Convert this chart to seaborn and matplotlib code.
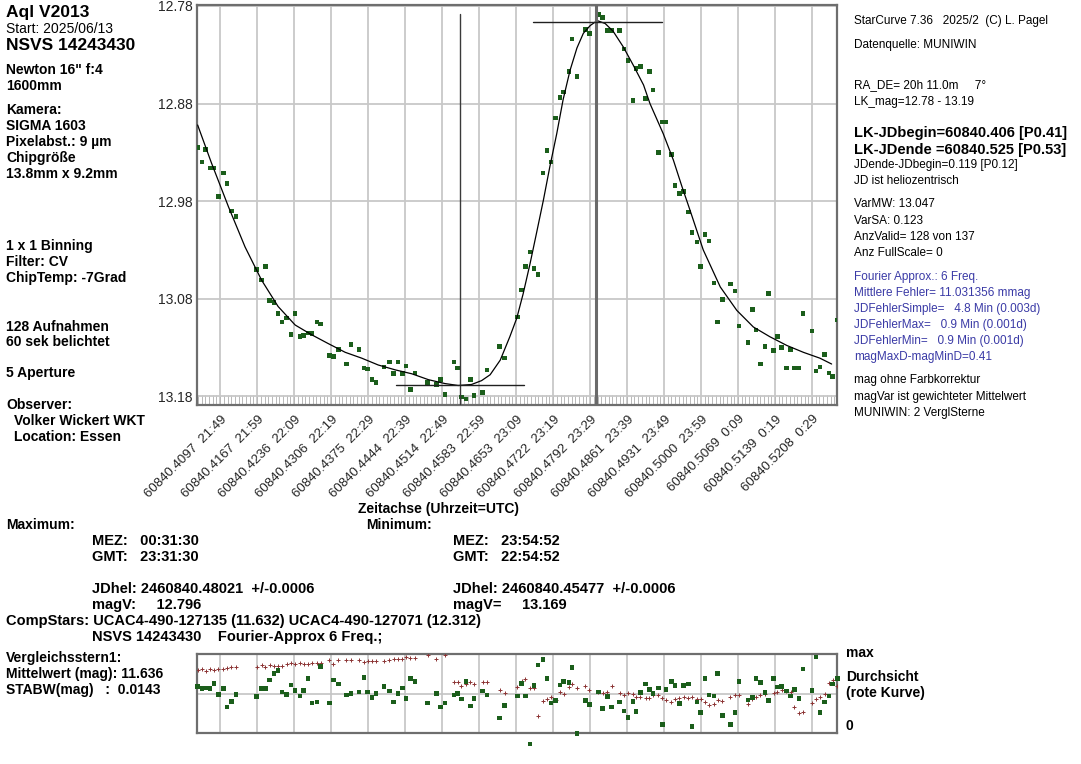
import numpy as np
import matplotlib
matplotlib.use('Agg')
import matplotlib.pyplot as plt
from matplotlib.ticker import MultipleLocator
import matplotlib.transforms as mtransforms
import seaborn as sns

# ---- data (JD - 2400000 fraction, magnitudes, percent) ----
JD0 = 60840.0

jd_frac = [.4055, .4063, .4070, .4078, .4086, .4094, .4103, .4110, .4118, .4127,
           .4166, .4175, .4182, .4190, .4198, .4206, .4213, .4222, .4230, .4238,
           .4247, .4254, .4262, .4270, .4279, .4286, .4302, .4310, .4319, .4334,
           .4343, .4358, .4367, .4374, .4382, .4390, .4405, .4415, .4423, .4431,
           .4439, .4446, .4454, .4463, .4487, .4503, .4511, .4519, .4536, .4543,
           .4550, .4559, .4567, .4574, .4590, .4598, .4622, .4631, .4655, .4663,
           .4670, .4679, .4686, .4694, .4703, .4711, .4718, .4727, .4735, .4742,
           .4752, .4758, .4767, .4783, .4790, .4807, .4815, .4824, .4832, .4847,
           .4855, .4863, .4872, .4878, .4886, .4896, .4903, .4910, .4920, .4927,
           .4934, .4944, .4951, .4959, .4967, .4976, .4983, .4992, .4999, .5007,
           .5015, .5024, .5031, .5040, .5055, .5064, .5071, .5088, .5096, .5103,
           .5111, .5120, .5127, .5136, .5143, .5151, .5160, .5168, .5175, .5184,
           .5191, .5208, .5216, .5223, .5232, .5240, .5247, .5256]

mag = [12.925, 12.940, 12.927, 12.946, 12.946, 12.975, 12.951, 12.962, 12.990, 12.996,
       13.050, 13.061, 13.047, 13.082, 13.084, 13.095, 13.104, 13.100, 13.117, 13.095,
       13.119, 13.118, 13.115, 13.116, 13.104, 13.106, 13.138, 13.139, 13.132, 13.147,
       13.127, 13.132, 13.151, 13.152, 13.163, 13.166, 13.150, 13.145, 13.157, 13.145,
       13.157, 13.149, 13.173, 13.156, 13.166, 13.168, 13.163, 13.178, 13.145, 13.151,
       13.181, 13.183, 13.163, 13.179, 13.176, 13.153, 13.129, 13.141, 13.099, 13.071,
       13.047, 13.032, 13.049, 13.055, 12.951, 12.928, 12.940, 12.895, 12.874, 12.868,
       12.847, 12.814, 12.852, 12.804, 12.808, 12.789, 12.792, 12.805, 12.805, 12.805,
       12.824, 12.836, 12.877, 12.844, 12.842, 12.875, 12.847, 12.866, 12.930, 12.899,
       12.899, 12.932, 12.964, 12.972, 12.970, 12.991, 13.012, 13.022, 13.047, 13.014,
       13.021, 13.064, 13.104, 13.081, 13.065, 13.072, 13.108, 13.125, 13.091, 13.112,
       13.147, 13.129, 13.075, 13.133, 13.119, 13.130, 13.151, 13.132, 13.151, 13.151,
       13.095, 13.113, 13.154, 13.150, 13.137, 13.156, 13.160, 13.102]

# Fourier approximation curve, traced point by point
fit_frac = [.4055, .4081, .4113, .4144, .4175, .4206, .4238, .4269, .4300, .4332,
            .4363, .4394, .4426, .4457, .4488, .4519, .4544, .4569, .4588, .4604,
            .4623, .4641, .4654, .4666, .4679, .4691, .4704, .4716, .4729, .4741,
            .4754, .4767, .4779, .4792, .4805, .4820, .4835, .4854, .4873, .4892,
            .4904, .4929, .4948, .4964, .4979, .5004, .5036, .5067, .5098, .5129,
            .5161, .5192, .5223, .5245]
fit_mag = [12.902, 12.941, 12.986, 13.027, 13.061, 13.088, 13.107, 13.117, 13.126, 13.135,
           13.141, 13.148, 13.153, 13.157, 13.163, 13.167, 13.169, 13.168, 13.164, 13.158,
           13.143, 13.119, 13.100, 13.075, 13.044, 13.013, 12.979, 12.945, 12.911, 12.876,
           12.846, 12.823, 12.808, 12.800, 12.795, 12.798, 12.806, 12.822, 12.841, 12.861,
           12.880, 12.911, 12.938, 12.965, 12.989, 13.030, 13.068, 13.092, 13.109, 13.119,
           13.128, 13.135, 13.141, 13.147]

# comparison star (green) and transparency (red) in percent of panel height
cmp_pct = [59, 56, 57, 56, 63, 49, 56, 33, 40, 49,
           46, 56, 56, 67, 75, 79, 52, 49, 61, 54,
           47, 54, 69, 38, 39, 84, 38, 67, 62, 48,
           50, 52, 70, 52, 45, 50, 59, 53, 39, 50,
           57, 44, 69, 65, 38, 50, 33, 38, 48, 50,
           43, 65, 34, 44, 53, 48, 19, 35, 47, 63,
           47, -14, 60, 86, 93, 69, 38, 41, 61, 65,
           64, 83, -1, 41, 36, 52, 31, 46, 33, 39,
           28, 20, 40, 27, 51, 62, 55, 50, 57, 11,
           55, 65, 60, 37, 60, 62, 8, 39, 26, 69,
           48, 47, 75, 22, 11, 26, 65, 42, 45, 69,
           64, 51, 41, 69, 58, 59, 53, 47, 55, 44,
           81, 54, 96, 26, 39, 47, 62, 69]
nan = np.nan
transp_pct = [80, 81, 79, 81, 80, 81, 81, 82, 84, 84,
              84, 86, 84, 86, 85, 85, 85, 87, 88, 87,
              89, 87, 87, 89, 89, 88, 92, 87, 92, 92,
              92, 92, 90, 91, 91, 91, 91, 92, 94, 94,
              94, 96, 95, 95, 99, 94, nan, 99, 65, 65,
              59, 62, 65, 62, 64, 64, 55, 51, 58, 66,
              68, 57, 57, 21, 41, 43, 46, 42, 52, 50,
              58, 62, 57, 59, 54, 52, 51, 52, 59, 51,
              48, 51, 49, 45, 45, 44, 44, 48, 48, 44,
              42, 39, 43, 44, 46, 44, 45, 43, 43, 39,
              36, 37, 42, 41, 46, 48, 48, 37, 43, 45,
              48, 50, nan, 51, 52, 54, 53, 52, 33, 25,
              26, 38, 43, 45, 50, 63, 67, 60]

tick_jd = ['60840.4097', '60840.4167', '60840.4236', '60840.4306', '60840.4375',
           '60840.4444', '60840.4514', '60840.4583', '60840.4653', '60840.4722',
           '60840.4792', '60840.4861', '60840.4931', '60840.5000', '60840.5069',
           '60840.5139', '60840.5208']
tick_utc = ['21:49', '21:59', '22:09', '22:19', '22:29', '22:39', '22:49', '22:59',
            '23:09', '23:19', '23:29', '23:39', '23:49', '23:59', '0:09', '0:19', '0:29']
y_ticks = [12.78, 12.88, 12.98, 13.08, 13.18]

MAX_JD, MAX_MAG = 60840.48021, 12.796
MIN_JD, MIN_MAG = 60840.45477, 13.169

# ---- figure ----
sns.set_theme(style='white')
plt.rcParams['font.family'] = ['Liberation Sans', 'DejaVu Sans']

W, H = 1081, 764
fig = plt.figure(figsize=(W / 100, H / 100), dpi=100)
fig.patch.set_facecolor('white')


def box(l, t, r, b):
    return [l / W, 1 - b / H, (r - l) / W, (b - t) / H]


def txt(x, y, s, size=10, bold=True, color='black', **kw):
    fig.text(x / W, 1 - y / H, s, fontsize=size, fontweight='bold' if bold else 'normal',
             color=color, va='center', ha=kw.pop('ha', 'left'), **kw)


GREEN = '#1b5e1b'
GRID = '#c8c8c8'
SPINE = '#6e6e6e'
XLIM = (60840.40538, 60840.52551)

jd = JD0 + np.array(jd_frac)
fit_jd = JD0 + np.array(fit_frac)
tick_pos = [float(t) for t in tick_jd]

ax = fig.add_axes(box(197, 5, 837, 405))
ax.set_xlim(*XLIM)
ax.set_ylim(13.189, 12.779)
ax.set_xticks(tick_pos)
ax.set_xticklabels([f'{j}  {u}' for j, u in zip(tick_jd, tick_utc)],
                   rotation=45, ha='right', va='center', rotation_mode='anchor', fontsize=9.5)
ax.set_yticks(y_ticks)
ax.set_yticklabels([f'{v:.2f}' for v in y_ticks], fontsize=10)
ax.xaxis.set_minor_locator(MultipleLocator(1 / 1440))
ax.tick_params(axis='x', which='major', length=0, pad=9)
ax.tick_params(axis='x', which='minor', bottom=True, direction='in', length=7, width=0.7, color='#b8b8b8')
ax.tick_params(axis='y', length=0, pad=3)
ax.grid(True, which='major', color=GRID, lw=1.3)
ax.set_axisbelow(True)
for sp in ax.spines.values():
    sp.set_color(SPINE)
    sp.set_linewidth(1.6)

for lab in ax.get_xticklabels():
    lab.set_transform(lab.get_transform() + mtransforms.ScaledTranslation(5 / 100, 0, fig.dpi_scale_trans))

sns.scatterplot(x=jd, y=mag, marker='s', s=11, color=GREEN, edgecolor='none', linewidth=0, ax=ax, zorder=3)
sns.lineplot(x=fit_jd, y=fit_mag, sort=False, estimator=None, color='black', lw=0.9, ax=ax, zorder=4)

# minimum / maximum markers
ax.plot([MIN_JD, MIN_JD], [12.788, 13.189], color='#3a3a3a', lw=1.0, zorder=5)
ax.plot([MIN_JD - 0.012, MIN_JD + 0.012], [MIN_MAG, MIN_MAG], color='#202020', lw=1.0, zorder=5)
ax.plot([MAX_JD, MAX_JD], [12.779, 13.189], color='#6a6a6a', lw=2.2, zorder=5)
ax.plot([MAX_JD - 0.0117, MAX_JD + 0.0125], [MAX_MAG, MAX_MAG], color='#202020', lw=1.0, zorder=5)
ax.set_xlabel('')
ax.set_ylabel('')

# ---- lower panel: comparison star & transparency ----
ax2 = fig.add_axes(box(197, 654, 837, 733))
ax2.set_xlim(*XLIM)
ax2.set_ylim(0, 100)
ax2.set_xticks(tick_pos)
ax2.set_yticks([])
ax2.tick_params(labelbottom=False, length=0)
ax2.grid(True, axis='x', color=GRID, lw=1.3)
ax2.axhline(50, color='#c4c4c4', lw=1.2, zorder=1)
ax2.set_axisbelow(True)
for sp in ax2.spines.values():
    sp.set_color(SPINE)
    sp.set_linewidth(1.6)
sns.scatterplot(x=jd, y=transp_pct, marker='+', s=9, color='#8c3434', linewidth=0.7, ax=ax2, zorder=3)
sns.scatterplot(x=jd, y=cmp_pct, marker='s', s=11, color=GREEN, edgecolor='none', linewidth=0,
                ax=ax2, zorder=4, clip_on=False)
ax2.set_xlabel('')
ax2.set_ylabel('')

# ---- texts ----
left_lines = [
    ('Aql V2013', 12, 12.5, True), ('Start: 2025/06/13', 29, 10, False),
    ('NSVS 14243430', 45, 12.5, True), ('Newton 16" f:4', 70, 10, True),
    ('1600mm', 86, 10, True), ('Kamera:', 110, 10, True), ('SIGMA 1603', 126, 10, True),
    ('Pixelabst.: 9 µm', 142, 10, True), ('Chipgröße', 158, 10, True),
    ('13.8mm x 9.2mm', 174, 10, True), ('1 x 1 Binning', 246, 10, True),
    ('Filter: CV', 262, 10, True), ('ChipTemp: -7Grad', 278, 10, True),
    ('128 Aufnahmen', 327, 10, True), ('60 sek belichtet', 342, 10, True),
    ('5 Aperture', 373, 10, True), ('Observer:', 405, 10, True),
]
for s, y, size, b in left_lines:
    txt(6, y, s, size=size, bold=b)
txt(14, 421, 'Volker Wickert WKT', size=10)
txt(14, 437, 'Location: Essen', size=10)

BLUE = '#3a3aa6'
right_lines = [
    ('StarCurve 7.36   2025/2  (C) L. Pagel', 21, 8.5, False, 'black'),
    ('Datenquelle: MUNIWIN', 45, 8.5, False, 'black'),
    ('RA_DE= 20h 11.0m     7°', 85, 8.5, False, 'black'),
    ('LK_mag=12.78 - 13.19', 102, 8.5, False, 'black'),
    ('LK-JDbegin=60840.406 [P0.41]', 133, 10.5, True, 'black'),
    ('LK-JDende =60840.525 [P0.53]', 150, 10.5, True, 'black'),
    ('JDende-JDbegin=0.119 [P0.12]', 165, 8.5, False, 'black'),
    ('JD ist heliozentrisch', 181, 8.5, False, 'black'),
    ('VarMW: 13.047', 204, 8.5, False, 'black'),
    ('VarSA: 0.123', 221, 8.5, False, 'black'),
    ('AnzValid= 128 von 137', 237, 8.5, False, 'black'),
    ('Anz FullScale= 0', 253, 8.5, False, 'black'),
    ('Fourier Approx.: 6 Freq.', 277, 8.5, False, BLUE),
    ('Mittlere Fehler= 11.031356 mmag', 293, 8.5, False, BLUE),
    ('JDFehlerSimple=   4.8 Min (0.003d)', 309, 8.5, False, BLUE),
    ('JDFehlerMax=   0.9 Min (0.001d)', 325, 8.5, False, BLUE),
    ('JDFehlerMin=   0.9 Min (0.001d)', 341, 8.5, False, BLUE),
    ('magMaxD-magMinD=0.41', 357, 8.5, False, BLUE),
    ('mag ohne Farbkorrektur', 380, 8.5, False, 'black'),
    ('magVar ist gewichteter Mittelwert', 397, 8.5, False, 'black'),
    ('MUNIWIN: 2 VerglSterne', 413, 8.5, False, 'black'),
]
for s, y, size, b, c in right_lines:
    txt(854, y, s, size=size, bold=b, color=c)

txt(438, 509, 'Zeitachse (Uhrzeit=UTC)', size=10, ha='center')
txt(6, 525, 'Maximum:', size=10)
txt(366, 525, 'Minimum:', size=10)
txt(92, 541, 'MEZ:   00:31:30', size=10.5)
txt(92, 557, 'GMT:   23:31:30', size=10.5)
txt(453, 541, 'MEZ:   23:54:52', size=10.5)
txt(453, 557, 'GMT:   22:54:52', size=10.5)
txt(92, 589, 'JDhel: 2460840.48021  +/-0.0006', size=10.5)
txt(92, 605, 'magV:     12.796', size=10.5)
txt(453, 589, 'JDhel: 2460840.45477  +/-0.0006', size=10.5)
txt(453, 605, 'magV=     13.169', size=10.5)
txt(6, 621, 'CompStars: UCAC4-490-127135 (11.632) UCAC4-490-127071 (12.312)', size=10.5)
txt(92, 637, 'NSVS 14243430    Fourier-Approx 6 Freq.;', size=10.5)

txt(6, 658, 'Vergleichsstern1:', size=10)
txt(6, 674, 'Mittelwert (mag): 11.636', size=10)
txt(6, 690, 'STABW(mag)   :  0.0143', size=10)
txt(846, 653, 'max', size=10)
txt(846, 677, 'Durchsicht', size=10)
txt(846, 693, '(rote Kurve)', size=10)
txt(846, 726, '0', size=10)

fig.savefig('out.png', dpi=100)
